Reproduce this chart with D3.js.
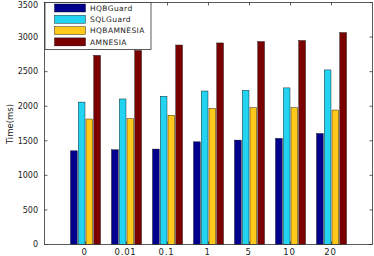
<!DOCTYPE html>
<html><head><meta charset="utf-8">
<script src="https://cdn.jsdelivr.net/npm/d3@7"></script>
<style>body{margin:0;background:#fff}svg{display:block}</style>
</head><body><svg id="c" width="374" height="256"></svg>
<script>
const categories = ["0","0.01","0.1","1","5","10","20"];
const seriesNames = ["HQBGuard","SQLGuard","HQBAMNESIA","AMNESIA"];
const hqbGuard   = [1355,1370,1380,1485,1510,1535,1605];
const sqlGuard   = [2060,2105,2145,2220,2230,2265,2525];
const hqbAmnesia = [1815,1820,1870,1970,1980,1980,1945];
const amnesia    = [2735,2805,2885,2915,2935,2950,3065];
const yTicks = [0,500,1000,1500,2000,2500,3000,3500];
const colors = ["#00008c","#22d4f2","#ffc81a","#7a0000"];

const series = [hqbGuard, sqlGuard, hqbAmnesia, amnesia];
const svg = d3.select("#c");
const L = 44.5, R = 372.5, T = 2.5, B = 244.5;
const x = d3.scaleLinear().domain([0, categories.length + 1]).range([L, R]);
const y = d3.scaleLinear().domain([0, 3500]).range([B, T]);
const sub = d3.scaleBand().domain(d3.range(seriesNames.length)).range([-15, 15]).paddingInner(0.13);

// bars
categories.forEach((c, i) => {
  series.forEach((s, j) => {
    svg.append("rect")
      .attr("x", x(i + 1) + sub(j))
      .attr("y", y(s[i]))
      .attr("width", sub.bandwidth())
      .attr("height", y(0) - y(s[i]))
      .attr("fill", colors[j])
      .attr("stroke", "#000").attr("stroke-width", 0.4);
  });
});

// axes box
svg.append("rect").attr("x", L).attr("y", T).attr("width", R - L).attr("height", B - T)
  .attr("fill", "none").attr("stroke", "#333").attr("stroke-width", 0.8);

const font = "DejaVu Sans, sans-serif";
// y ticks & labels
yTicks.forEach(v => {
  svg.append("line").attr("x1", L).attr("x2", L + 3).attr("y1", y(v)).attr("y2", y(v)).attr("stroke", "#333").attr("stroke-width", 0.8);
  svg.append("line").attr("x1", R).attr("x2", R - 3).attr("y1", y(v)).attr("y2", y(v)).attr("stroke", "#333").attr("stroke-width", 0.8);
  svg.append("text").attr("x", 38).attr("y", Math.max(y(v), 5)).attr("dy", "0.35em")
    .attr("text-anchor", "end").attr("font-family", font).attr("font-size", 8)
    .attr("fill", "#222").text(v);
});
// x ticks & labels
categories.forEach((c, i) => {
  svg.append("line").attr("x1", x(i + 1)).attr("x2", x(i + 1)).attr("y1", B).attr("y2", B - 3).attr("stroke", "#333").attr("stroke-width", 0.8);
  svg.append("line").attr("x1", x(i + 1)).attr("x2", x(i + 1)).attr("y1", T).attr("y2", T + 3).attr("stroke", "#333").attr("stroke-width", 0.8);
  svg.append("text").attr("x", x(i + 1) - 1).attr("y", 255)
    .attr("text-anchor", "middle").attr("font-family", font).attr("font-size", 8.5)
    .attr("letter-spacing", 0.8).attr("fill", "#222").text(c);
});
// y label
svg.append("text").attr("transform", "translate(13,124) rotate(-90)")
  .attr("text-anchor", "middle").attr("font-family", font).attr("font-size", 8.5)
  .attr("fill", "#222").text("Time(ms)");

// legend
svg.append("rect").attr("x", L + 0.5).attr("y", T).attr("width", 106).attr("height", 47)
  .attr("fill", "#fff").attr("stroke", "#333").attr("stroke-width", 0.8);
seriesNames.forEach((n, j) => {
  const cy = 8 + j * 11.3;
  svg.append("rect").attr("x", 54.5).attr("y", cy - 4).attr("width", 31).attr("height", 8)
    .attr("fill", colors[j]).attr("stroke", "#000").attr("stroke-width", 0.4);
  svg.append("text").attr("x", 90).attr("y", cy).attr("dy", "0.35em")
    .attr("font-family", font).attr("font-size", 7.5).attr("letter-spacing", 0.4)
    .attr("fill", "#222").text(n);
});
</script></body></html>
